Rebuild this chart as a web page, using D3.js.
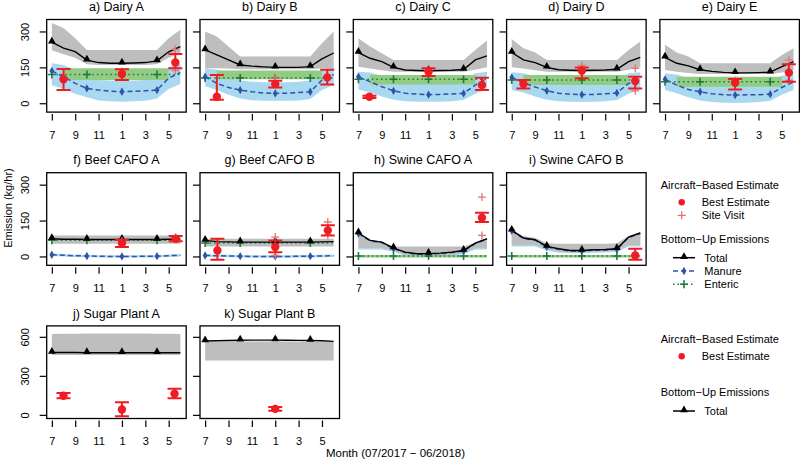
<!DOCTYPE html>
<html><head><meta charset="utf-8">
<script src="https://cdn.jsdelivr.net/npm/d3@7"></script>
<style>body{margin:0;background:#fff} text{font-family:"Liberation Sans",Arial,Helvetica,sans-serif;fill:#000}</style>
</head><body><svg id="c" width="800" height="459"></svg>
<script>
// ---------- data ----------
const months = [0,1,2,3,4,5,6,7,8,9,10,11];          // Jul 2017 .. Jun 2018
const tickMonths = [0,2,4,6,8,10];
const tickLabels = ["7","9","11","1","3","5"];
const markerMonths = [0,3,6,9];
const yTicksMain = [0,150,300];
const yTicksSugar = [0,300,600];

// Dairy A
const dairyA_total   = [255,230,216,180,170,167,167,168,170,177,215,237];
const dairyA_totalHi = [335,314,272,223,223,223,223,223,223,223,272,307];
const dairyA_totalLo = [222,205,190,163,160,160,160,160,160,163,190,210];
const dairyA_manure  = [135,111,83,62,55,50,48,50,52,55,105,128];
const dairyA_manureHi= [167,160,140,100,97,95,95,95,97,100,150,165];
const dairyA_manureLo= [75,60,40,25,12,8,6,8,10,20,60,80];
const dairyA_enteric = [120,120,120,120,120,120,120,120,120,120,120,120];
const dairyA_entericHi=[null,146,146,146,146,146,146,146,146,146,146,null];
const dairyA_entericLo=[null,97,97,97,97,97,97,97,97,97,97,null];
const dairyA_best = [[1,100,55,143],[6,122,97,142],[10.57,170,146,206]];
const dairyA_site = [[6,132],[10.57,225],[10.57,136]];

// Dairy B
const dairyB_total   = [223,202,181,160,155,152,150,150,150,153,185,210];
const dairyB_totalHi = [300,279,237,195,195,195,195,195,195,195,251,300];
const dairyB_totalLo = [146,146,145,142,142,142,142,142,142,142,145,146];
const dairyB_manure  = [111,83,66,55,48,43,41,42,45,48,97,120];
const dairyB_manureHi= [146,140,125,95,90,88,88,88,90,95,140,150];
const dairyB_manureLo= [71,55,35,20,13,10,10,10,12,18,55,75];
const dairyB_enteric = [106,106,106,106,106,106,106,106,106,106,106,106];
const dairyB_entericHi=[null,137,137,137,137,137,137,137,137,137,137,null];
const dairyB_entericLo=[null,100,100,100,100,100,100,100,100,100,100,null];
const dairyB_best = [[1,27,15,118],[6,80,66,94],[10.45,108,78,140]];
const dairyB_site = [[6,105]];

// Dairy C
const dairyC_total   = [212,188,174,150,139,137,136,137,138,141,181,198];
const dairyC_totalHi = [272,237,209,181,181,181,181,181,181,181,223,262];
const dairyC_totalLo = [153,145,138,132,132,132,132,132,132,132,140,150];
const dairyC_manure  = [111,90,69,52,42,38,36,37,39,41,76,104];
const dairyC_manureHi= [132,128,115,95,90,88,88,88,90,92,125,132];
const dairyC_manureLo= [57,45,28,15,8,6,6,6,8,14,40,60];
const dairyC_enteric = [100,100,100,100,100,100,100,100,100,100,100,100];
const dairyC_entericHi=[null,118,118,118,118,118,118,118,118,118,118,null];
const dairyC_entericLo=[null,78,78,78,78,78,78,78,78,78,78,null];
const dairyC_best = [[0.94,27,22,31],[6,132,114,146],[10.57,76,55,107]];
const dairyC_site = [[6,136]];

// Dairy D
const dairyD_total   = [212,181,170,150,140,138,137,138,139,142,174,192];
const dairyD_totalHi = [268,230,212,181,181,181,181,181,181,181,223,258];
const dairyD_totalLo = [150,145,138,132,132,132,132,132,132,132,140,150];
const dairyD_manure  = [108,85,68,52,42,38,36,37,40,43,83,101];
const dairyD_manureHi= [130,125,112,95,90,88,88,88,90,92,125,130];
const dairyD_manureLo= [55,45,28,15,8,6,5,6,8,14,40,58];
const dairyD_enteric = [97,97,97,97,97,97,97,97,97,97,97,97];
const dairyD_entericHi=[null,118,118,118,118,118,118,118,118,118,118,null];
const dairyD_entericLo=[null,76,76,76,76,76,76,76,76,76,76,null];
const dairyD_best = [[1,80,62,97],[6,136,104,149],[10.57,93,62,111]];
const dairyD_site = [[6,158],[10.57,146],[10.57,52]];

// Dairy E
const dairyE_total   = [192,167,156,140,133,129,127,127,128,130,153,174];
const dairyE_totalHi = [244,212,195,167,167,167,167,167,167,167,202,230];
const dairyE_totalLo = [139,132,126,122,122,122,122,122,122,122,128,139];
const dairyE_manure  = [100,76,57,48,40,36,34,35,36,38,66,90];
const dairyE_manureHi= [125,120,105,90,85,83,83,83,85,88,115,125];
const dairyE_manureLo= [55,42,25,12,5,2,1,2,5,10,35,55];
const dairyE_enteric = [90,90,90,90,90,90,90,90,90,90,90,90];
const dairyE_entericHi=[null,111,111,111,111,111,111,111,111,111,111,null];
const dairyE_entericLo=[null,69,69,69,69,69,69,69,69,69,69,null];
const dairyE_best = [[6,86,57,101],[10.6,128,90,163]];
const dairyE_site = [[6,95],[10.6,181],[10.6,95]];

// Beef CAFO A
const beefA_total   = [74,72,72,71,71,71,71,71,71,71,72,73];
const beefA_totalHi = [88,88,88,88,88,88,88,88,88,88,88,88];
const beefA_totalLo = [53,53,53,53,53,53,53,53,53,53,53,53];
const beefA_manure  = [7,5,3,2,1,0,0,0,1,1,3,5];
const beefA_manureHi= [12,10,8,6,5,5,5,5,5,5,8,10];
const beefA_manureLo= [2,0,-2,-3,-4,-4,-4,-4,-4,-4,-2,0];
const beefA_enteric = [68,68,68,68,68,68,68,68,68,68,68,68];
const beefA_best = [[6,55,40,70],[10.6,74,64,85]];
const beefA_site = [[6,65],[10.6,80]];

// Beef CAFO B
const beefB_total   = [67,62,61,60,60,60,60,60,60,60,61,62];
const beefB_totalHi = [74,74,74,74,74,74,74,74,74,74,74,74];
const beefB_totalLo = [42,42,42,42,42,42,42,42,42,42,42,42];
const beefB_manure  = [4,3,2,1,0,0,0,0,1,1,2,3];
const beefB_manureHi= [9,8,7,6,5,5,5,5,6,6,7,8];
const beefB_manureLo= [-1,-2,-3,-4,-5,-5,-5,-5,-4,-4,-3,-2];
const beefB_enteric = [56,56,56,56,56,56,56,56,56,56,56,56];
const beefB_best = [[1.05,25,-14,74],[6,39,18,67],[10.5,109,88,130]];
const beefB_site = [[6,81],[6,4],[10.5,144],[10.5,90]];

// Swine CAFO A
const swineA_total   = [98,67,60,35,18,11,12,14,18,25,56,74];
const swineA_totalHi = [100,69,62,42,42,42,42,42,42,42,58,76];
const swineA_totalLo = [35,35,35,25,8,5,5,6,8,15,35,35];
const swineA_manure  = [96,65,58,33,16,9,10,12,16,23,54,72];
const swineA_manureHi= [96,65,58,33,16,9,10,12,16,23,54,72];
const swineA_manureLo= [29,29,29,20,3,0,0,1,3,10,29,29];
const swineA_enteric = [2,2,2,2,2,2,2,2,2,2,2,2];
const swineA_entericHi=[6,6,6,6,6,6,6,6,6,6,6,6];
const swineA_entericLo=[-4,-4,-4,-4,-4,-4,-4,-4,-4,-4,-4,-4];
const swineA_best = [[10.57,162,144,183]];
const swineA_site = [[10.57,248],[10.57,88]];

// Swine CAFO B
const swineB_total   = [109,77,70,42,32,25,25,28,29,32,81,98];
const swineB_totalHi = [112,85,78,55,53,53,53,53,53,55,85,102];
const swineB_totalLo = [48,48,48,30,20,18,18,20,22,25,48,48];
const swineB_manure  = [107,75,68,40,30,23,23,26,27,30,79,96];
const swineB_manureHi= [107,75,68,40,30,23,23,26,27,30,79,96];
const swineB_manureLo= [42,42,42,25,15,13,13,15,17,20,42,42];
const swineB_enteric = [2,2,2,2,2,2,2,2,2,2,2,2];
const swineB_entericHi=[6,6,6,6,6,6,6,6,6,6,6,6];
const swineB_entericLo=[-4,-4,-4,-4,-4,-4,-4,-4,-4,-4,-4,-4];
const swineB_best = [[10.57,4,-14,32]];
const swineB_site = [];

// Sugar Plant A
const sugarA_total   = [479,479,479,478,478,478,478,478,478,478,478,478];
const sugarA_totalHi = [622,623,624,625,625,625,625,625,625,624,623,622];
const sugarA_totalLo = [460,460,460,460,460,460,460,460,460,460,460,460];
const sugarA_best = [[1,147,127,168],[6,41,-10,97],[10.5,163,127,201]];

// Sugar Plant B
const sugarB_total   = [568,570,572,574,575,575,575,574,573,572,570,565];
const sugarB_totalHi = [562,563,564,565,565,565,565,565,565,564,563,560];
const sugarB_totalLo = [417,417,417,417,417,417,417,417,417,417,417,417];
const sugarB_best = [[6,46,31,61]];

const panels = [
 {title:"a) Dairy A", row:0,col:0,total:dairyA_total,totalHi:dairyA_totalHi,totalLo:dairyA_totalLo,manure:dairyA_manure,manureHi:dairyA_manureHi,manureLo:dairyA_manureLo,enteric:dairyA_enteric,entericHi:dairyA_entericHi,entericLo:dairyA_entericLo,best:dairyA_best,site:dairyA_site},
 {title:"b) Dairy B", row:0,col:1,total:dairyB_total,totalHi:dairyB_totalHi,totalLo:dairyB_totalLo,manure:dairyB_manure,manureHi:dairyB_manureHi,manureLo:dairyB_manureLo,enteric:dairyB_enteric,entericHi:dairyB_entericHi,entericLo:dairyB_entericLo,best:dairyB_best,site:dairyB_site},
 {title:"c) Dairy C", row:0,col:2,total:dairyC_total,totalHi:dairyC_totalHi,totalLo:dairyC_totalLo,manure:dairyC_manure,manureHi:dairyC_manureHi,manureLo:dairyC_manureLo,enteric:dairyC_enteric,entericHi:dairyC_entericHi,entericLo:dairyC_entericLo,best:dairyC_best,site:dairyC_site},
 {title:"d) Dairy D", row:0,col:3,total:dairyD_total,totalHi:dairyD_totalHi,totalLo:dairyD_totalLo,manure:dairyD_manure,manureHi:dairyD_manureHi,manureLo:dairyD_manureLo,enteric:dairyD_enteric,entericHi:dairyD_entericHi,entericLo:dairyD_entericLo,best:dairyD_best,site:dairyD_site},
 {title:"e) Dairy E", row:0,col:4,total:dairyE_total,totalHi:dairyE_totalHi,totalLo:dairyE_totalLo,manure:dairyE_manure,manureHi:dairyE_manureHi,manureLo:dairyE_manureLo,enteric:dairyE_enteric,entericHi:dairyE_entericHi,entericLo:dairyE_entericLo,best:dairyE_best,site:dairyE_site},
 {title:"f) Beef CAFO A", row:1,col:0,total:beefA_total,totalHi:beefA_totalHi,totalLo:beefA_totalLo,manure:beefA_manure,manureHi:beefA_manureHi,manureLo:beefA_manureLo,enteric:beefA_enteric,best:beefA_best,site:beefA_site},
 {title:"g) Beef CAFO B", row:1,col:1,total:beefB_total,totalHi:beefB_totalHi,totalLo:beefB_totalLo,manure:beefB_manure,manureHi:beefB_manureHi,manureLo:beefB_manureLo,enteric:beefB_enteric,best:beefB_best,site:beefB_site},
 {title:"h) Swine CAFO A", row:1,col:2,total:swineA_total,totalHi:swineA_totalHi,totalLo:swineA_totalLo,manure:swineA_manure,manureHi:swineA_manureHi,manureLo:swineA_manureLo,enteric:swineA_enteric,entericHi:swineA_entericHi,entericLo:swineA_entericLo,best:swineA_best,site:swineA_site},
 {title:"i) Swine CAFO B", row:1,col:3,total:swineB_total,totalHi:swineB_totalHi,totalLo:swineB_totalLo,manure:swineB_manure,manureHi:swineB_manureHi,manureLo:swineB_manureLo,enteric:swineB_enteric,entericHi:swineB_entericHi,entericLo:swineB_entericLo,best:swineB_best,site:swineB_site},
 {title:"j) Sugar Plant A", row:2,col:0,total:sugarA_total,totalHi:sugarA_totalHi,totalLo:sugarA_totalLo,best:sugarA_best,site:[]},
 {title:"k) Sugar Plant B", row:2,col:1,total:sugarB_total,totalHi:sugarB_totalHi,totalLo:sugarB_totalLo,best:sugarB_best,site:[]}
];

// ---------- layout / style ----------
const W = 139.5, H = 92.6;
const colLeft = [46.7, 200, 353.3, 506.6, 659.9];
const rowTop = [19.5, 172.7, 325.9];
const xDomain = [-0.44, 11.5];
const C = {grey:"#BEBEBE", blueBand:"#A9D9F0", greenBand:"#92CC84", manure:"#2F53A8",
           enteric:"#1F7A38", red:"#EE1D23", pink:"#E27475"};

const svg = d3.select("#c");
const plusPath = (x,y,s) => `M${x-s},${y}H${x+s}M${x},${y-s}V${y+s}`;
const tri = d3.symbol().type(d3.symbolTriangle).size(26);
const dia = d3.symbol().type(d3.symbolDiamond).size(20);

panels.forEach((p,k) => {
  const g = svg.append("g").attr("transform",`translate(${colLeft[p.col]},${rowTop[p.row]})`);
  const x = d3.scaleLinear().domain(xDomain).range([0,W]);
  const y = d3.scaleLinear().domain(p.row===2?[-28,684]:[-37,350]).range([H,0]);
  g.append("clipPath").attr("id","cl"+k).append("rect").attr("width",W).attr("height",H);
  const pg = g.append("g").attr("clip-path",`url(#cl${k})`);
  const idx = months.map((m,i)=>i);
  const band = (lo,hi,color) => {
    if(!lo||!hi) return;
    const a = d3.area().defined(i=>lo[i]!=null&&hi[i]!=null)
      .x(i=>x(months[i])).y0(i=>y(lo[i])).y1(i=>y(hi[i]));
    pg.append("path").datum(idx).attr("d",a).attr("fill",color);
  };
  band(p.manureLo,p.manureHi,C.blueBand);
  band(p.totalLo,p.totalHi,C.grey);
  band(p.entericLo,p.entericHi,C.greenBand);
  const ln = arr => d3.line().x(i=>x(months[i])).y(i=>y(arr[i]))(idx);
  if(p.enteric){
    pg.append("path").attr("d",ln(p.enteric)).attr("fill","none").attr("stroke",C.enteric)
      .attr("stroke-width",1.5).attr("stroke-dasharray","1.5,3");
  }
  if(p.manure){
    pg.append("path").attr("d",ln(p.manure)).attr("fill","none").attr("stroke",C.manure)
      .attr("stroke-width",1.5).attr("stroke-dasharray","5,3");
  }
  pg.append("path").attr("d",ln(p.total)).attr("fill","none").attr("stroke","#000").attr("stroke-width",1.4);
  markerMonths.forEach(m=>{
    if(p.enteric) pg.append("path").attr("d",plusPath(x(m),y(p.enteric[m]),4)).attr("stroke",C.enteric).attr("stroke-width",1.6);
    if(p.manure) pg.append("path").attr("d",dia()).attr("transform",`translate(${x(m)},${y(p.manure[m])})`).attr("fill",C.manure);
    pg.append("path").attr("d",tri()).attr("transform",`translate(${x(m)},${y(p.total[m])-1})`).attr("fill","#000");
  });
  (p.site||[]).forEach(s=>{
    pg.append("path").attr("d",plusPath(x(s[0]),y(s[1]),4)).attr("stroke",C.pink).attr("stroke-width",1.3);
  });
  p.best.forEach(b=>{
    const bx = x(b[0]);
    pg.append("path").attr("d",`M${bx},${y(b[2])}V${y(b[3])}M${bx-7},${y(b[2])}H${bx+7}M${bx-7},${y(b[3])}H${bx+7}`)
      .attr("stroke",C.red).attr("stroke-width",2).attr("fill","none");
    pg.append("circle").attr("cx",bx).attr("cy",y(b[1])).attr("r",4.2).attr("fill",C.red);
  });
  g.append("rect").attr("width",W).attr("height",H).attr("fill","none").attr("stroke","#000").attr("stroke-width",1.3);
  // axes
  const xa = g.append("g").attr("transform",`translate(0,${H+2})`)
    .call(d3.axisBottom(x).tickValues(tickMonths).tickFormat((d,i)=>tickLabels[i]).tickSize(6.5).tickPadding(10.5));
  xa.select(".domain").remove();
  xa.selectAll("line").attr("stroke","#000").attr("stroke-width",1.2);
  xa.selectAll("text").attr("font-size",11).attr("font-family",null);
  const ya = g.append("g")
    .call(d3.axisLeft(y).tickValues(p.row===2?yTicksSugar:yTicksMain).tickSize(7)
      .tickFormat(p.col===0?(d=>d):(()=>"")));
  ya.select(".domain").remove();
  ya.selectAll("line").attr("stroke","#000").attr("stroke-width",1.2);
  ya.selectAll("text").attr("font-size",11).attr("font-family",null)
    .attr("x",0).attr("y",-17.4).attr("dy",null).attr("text-anchor","middle").attr("transform","rotate(-90)");
  g.append("text").attr("x",W/2).attr("y",-8.3).attr("text-anchor","middle").attr("font-size",12.5).text(p.title);
});

// axis titles
svg.append("text").attr("transform","translate(11.5,208) rotate(-90)").attr("text-anchor","middle")
  .attr("font-size",11).text("Emission (kg/hr)");
svg.append("text").attr("x",395.5).attr("y",456.5).attr("text-anchor","middle").attr("font-size",11.5)
  .text("Month (07/2017 \u2212 06/2018)");

// legends
function legend(y0, full){
  const L = svg.append("g");
  const fs = 11;
  L.append("text").attr("x",660.7).attr("y",y0).attr("font-size",fs).text("Aircraft\u2212Based Estimate");
  L.append("circle").attr("cx",681.7).attr("cy",y0+13.3).attr("r",3.2).attr("fill",C.red);
  L.append("text").attr("x",701.7).attr("y",y0+17).attr("font-size",fs).text("Best Estimate");
  let yy;
  if(full){
    L.append("path").attr("d",plusPath(681.7,y0+26.3,4)).attr("stroke",C.pink).attr("stroke-width",1.3);
    L.append("text").attr("x",701.7).attr("y",y0+30).attr("font-size",fs).text("Site Visit");
    yy = y0+54;
  } else yy = y0+53;
  L.append("text").attr("x",660.7).attr("y",yy).attr("font-size",fs).text("Bottom\u2212Up Emissions");
  const rows = full ? [["Total","#000",null],["Manure",C.manure,"5,3"],["Enteric",C.enteric,"1.5,3"]] : [["Total","#000",null]];
  rows.forEach((r,i)=>{
    const ly = yy + (full?14.7:15) + i*13.3;
    const l = L.append("path").attr("d",`M673,${ly}H695`).attr("stroke",r[1]).attr("stroke-width",1.5);
    if(r[2]) l.attr("stroke-dasharray",r[2]);
    if(i===0) L.append("path").attr("d",tri()).attr("transform",`translate(684,${ly-1})`).attr("fill","#000");
    if(i===1) L.append("path").attr("d",dia()).attr("transform",`translate(684,${ly})`).attr("fill",C.manure);
    if(i===2) L.append("path").attr("d",plusPath(684,ly,4)).attr("stroke",C.enteric).attr("stroke-width",1.6);
    L.append("text").attr("x",704.3).attr("y",ly+3.8).attr("font-size",fs).text(r[0]);
  });
}
legend(189, true);
legend(343, false);
</script></body></html>
